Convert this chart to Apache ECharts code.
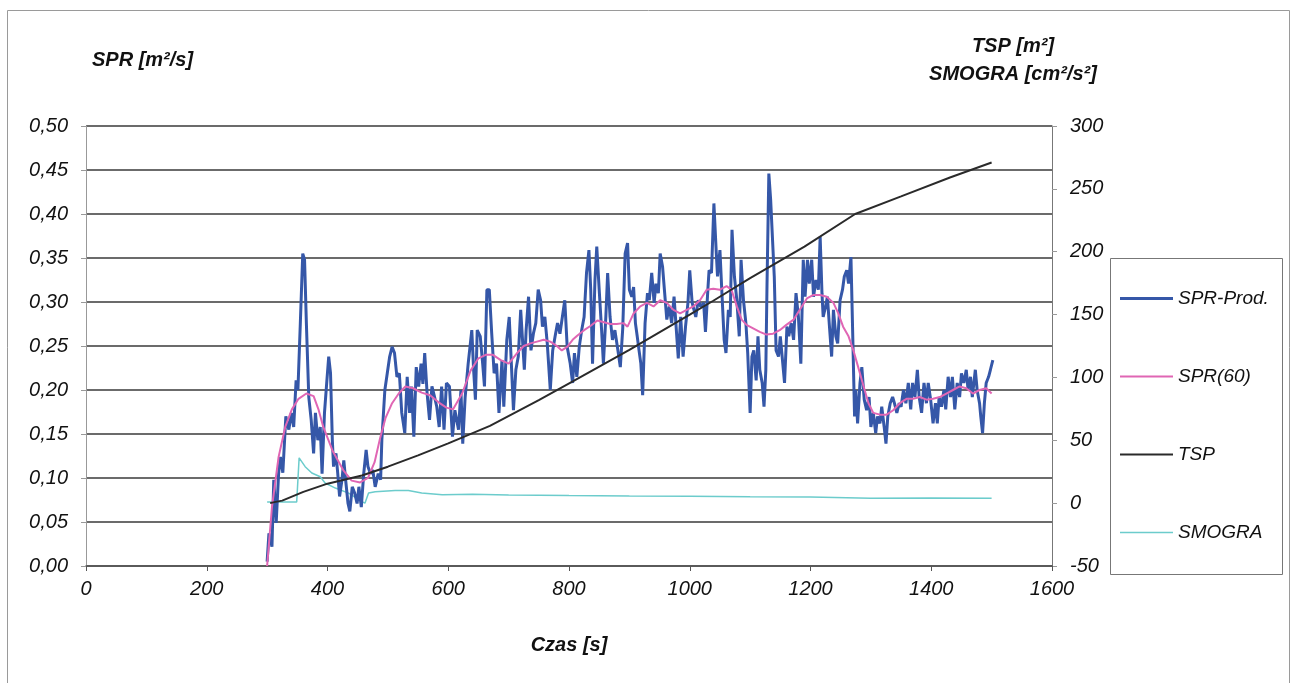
<!DOCTYPE html>
<html>
<head>
<meta charset="utf-8">
<script src="https://cdn.jsdelivr.net/npm/echarts@6/dist/echarts.min.js"></script>
<style>
html,body{margin:0;padding:0;background:#fff;}
#chart{width:1293px;height:683px;}
</style>
</head>
<body>
<div id="chart"></div>
<script>
// ---- Data ----
const xTicks = [0, 200, 400, 600, 800, 1000, 1200, 1400, 1600];
const leftTicks = [0, 0.05, 0.10, 0.15, 0.20, 0.25, 0.30, 0.35, 0.40, 0.45, 0.50];
const rightTicks = [-50, 0, 50, 100, 150, 200, 250, 300];

const sprProdT = [300,303,308,311,315,319,322,326,331,336,340,344,348,351,355,359,362,365,369,373,377,380,384,388,391,395,399,402,405,408,410,414,417,420,424,427,430,434,437,441,445,449,452,456,460,464,467,471,475,479,484,488,490,495,499,503,507,511,515,519,523,528,532,536,539,543,547,551,555,558,561,565,569,573,577,581,585,589,593,597,602,607,611,617,621,624,628,633,639,642,645,648,653,657,660,664,668,672,676,680,684,689,692,697,701,704,708,712,716,720,723,726,729,733,737,741,745,749,753,756,760,764,769,773,777,781,785,789,793,797,802,806,809,813,817,821,825,829,833,836,839,843,846,850,854,857,861,864,868,872,876,881,885,889,893,897,900,904,907,910,913,916,919,922,926,930,933,937,941,944,948,951,955,958,962,966,970,974,977,981,985,989,993,997,1000,1004,1007,1010,1014,1018,1023,1026,1030,1032,1036,1040,1044,1046,1050,1053,1057,1060,1064,1067,1070,1074,1078,1082,1085,1089,1093,1096,1100,1103,1106,1110,1113,1116,1120,1123,1126,1128,1131,1134,1137,1140,1143,1147,1150,1153,1157,1161,1164,1168,1172,1176,1180,1184,1188,1191,1195,1198,1202,1205,1209,1213,1216,1219,1221,1225,1228,1231,1235,1238,1242,1245,1249,1253,1256,1260,1263,1267,1270,1273,1275,1278,1282,1285,1289,1293,1297,1300,1304,1308,1311,1315,1318,1322,1325,1328,1332,1336,1339,1343,1347,1350,1354,1358,1362,1366,1369,1373,1377,1380,1384,1388,1392,1395,1399,1403,1407,1410,1413,1417,1421,1424,1428,1432,1435,1439,1443,1447,1450,1454,1458,1461,1465,1468,1473,1476,1480,1482,1485,1488,1491,1495,1498,1502];
const sprProdV = [0.005,0.037,0.022,0.098,0.049,0.105,0.124,0.106,0.170,0.155,0.174,0.158,0.211,0.200,0.276,0.355,0.348,0.276,0.192,0.166,0.128,0.174,0.143,0.158,0.105,0.174,0.211,0.238,0.219,0.143,0.113,0.128,0.105,0.079,0.098,0.120,0.098,0.071,0.062,0.090,0.083,0.071,0.090,0.067,0.105,0.132,0.113,0.105,0.109,0.090,0.105,0.098,0.143,0.200,0.219,0.238,0.249,0.242,0.215,0.219,0.174,0.151,0.215,0.174,0.204,0.147,0.226,0.204,0.230,0.207,0.242,0.196,0.166,0.204,0.193,0.181,0.158,0.204,0.155,0.208,0.204,0.147,0.177,0.155,0.200,0.139,0.192,0.230,0.268,0.223,0.189,0.268,0.261,0.230,0.204,0.314,0.314,0.264,0.219,0.230,0.174,0.234,0.181,0.257,0.283,0.238,0.177,0.223,0.238,0.291,0.257,0.223,0.268,0.306,0.245,0.264,0.276,0.314,0.302,0.272,0.283,0.253,0.200,0.245,0.261,0.276,0.264,0.283,0.302,0.249,0.230,0.208,0.242,0.215,0.249,0.268,0.283,0.333,0.359,0.314,0.230,0.325,0.363,0.314,0.268,0.230,0.283,0.333,0.283,0.257,0.268,0.245,0.226,0.270,0.355,0.367,0.314,0.306,0.317,0.276,0.261,0.245,0.230,0.194,0.276,0.310,0.302,0.333,0.299,0.321,0.310,0.355,0.340,0.314,0.280,0.295,0.276,0.306,0.276,0.236,0.283,0.238,0.272,0.299,0.336,0.299,0.291,0.283,0.302,0.295,0.299,0.266,0.314,0.336,0.333,0.412,0.355,0.329,0.359,0.314,0.257,0.242,0.291,0.283,0.382,0.329,0.302,0.261,0.348,0.302,0.276,0.242,0.174,0.238,0.245,0.211,0.261,0.223,0.208,0.181,0.223,0.321,0.446,0.416,0.416,0.329,0.245,0.238,0.261,0.261,0.208,0.272,0.261,0.276,0.257,0.310,0.283,0.230,0.348,0.306,0.348,0.321,0.348,0.306,0.325,0.314,0.374,0.310,0.283,0.295,0.306,0.276,0.238,0.291,0.261,0.253,0.302,0.314,0.329,0.336,0.321,0.351,0.261,0.170,0.200,0.162,0.208,0.226,0.189,0.177,0.192,0.158,0.174,0.151,0.170,0.162,0.181,0.158,0.139,0.170,0.185,0.192,0.185,0.174,0.185,0.181,0.200,0.185,0.208,0.178,0.208,0.192,0.223,0.192,0.174,0.208,0.185,0.208,0.189,0.162,0.185,0.162,0.192,0.181,0.200,0.178,0.215,0.192,0.215,0.178,0.208,0.192,0.219,0.208,0.223,0.200,0.215,0.192,0.223,0.200,0.185,0.170,0.151,0.185,0.208,0.215,0.223,0.234];

const spr60T = [300,308,319,330,341,352,365,377,385,393,409,426,440,454,467,478,487,496,507,518,529,542,556,570,584,597,608,623,637,650,662,674,687,700,714,725,736,747,758,769,780,788,797,806,814,825,836,847,858,868,879,890,897,907,918,929,940,951,962,973,984,995,1006,1017,1028,1039,1050,1061,1069,1078,1086,1094,1105,1116,1127,1138,1149,1160,1172,1183,1194,1205,1216,1227,1238,1246,1254,1263,1271,1279,1288,1296,1304,1315,1326,1337,1348,1359,1370,1381,1392,1403,1414,1425,1436,1447,1458,1469,1480,1491,1500];
const spr60V = [0.000,0.067,0.124,0.158,0.178,0.190,0.196,0.193,0.178,0.158,0.130,0.109,0.097,0.095,0.100,0.118,0.145,0.168,0.185,0.196,0.204,0.202,0.197,0.194,0.186,0.180,0.178,0.196,0.222,0.236,0.240,0.240,0.234,0.230,0.242,0.250,0.253,0.255,0.257,0.255,0.250,0.245,0.249,0.257,0.262,0.268,0.273,0.279,0.277,0.275,0.275,0.276,0.272,0.287,0.295,0.299,0.295,0.302,0.299,0.291,0.287,0.291,0.295,0.302,0.314,0.315,0.314,0.318,0.314,0.295,0.280,0.274,0.270,0.266,0.263,0.264,0.268,0.274,0.280,0.292,0.304,0.308,0.308,0.306,0.299,0.287,0.272,0.261,0.245,0.226,0.204,0.185,0.174,0.172,0.172,0.177,0.185,0.190,0.190,0.192,0.189,0.190,0.192,0.196,0.200,0.204,0.202,0.196,0.200,0.202,0.196];

const tspT = [305,314,325,360,400,457,500,550,600,669,750,807,900,1000,1039,1100,1190,1274,1350,1431,1500];
const tspV = [0,1,2,9,15.5,22,29,38,47.5,61.5,82,97,122,150,161,179,204,230,244,259,271];

const smograT = [300,349,353,363,374,388,396,413,435,457,462,468,479,512,534,556,590,640,700,800,900,1000,1100,1200,1300,1400,1500];
const smograV = [1,1,36,29,24,21,16,12,8,1.2,0,8,9,10,10,8,6.6,7,6.5,6,5.7,5.5,5,4.8,3.8,4,3.8];

const seriesNames = ['SPR-Prod.', 'SPR(60)', 'TSP', 'SMOGRA'];

// ---- Chart ----
const pair = (ts, vs) => ts.map((t, i) => [t, vs[i]]);
const FONT = 'Liberation Sans, Arial, sans-serif';
const chart = echarts.init(document.getElementById('chart'), null, {renderer: 'canvas'});

const labelStyle = {fontFamily: FONT, fontStyle: 'italic', fontSize: 20, color: '#111'};
const titleStyle = {fontFamily: FONT, fontStyle: 'italic', fontWeight: 'bold', fontSize: 20, color: '#111'};
const bar = h => 'path://M0,0M53,14M0,' + (7 - h / 2) + 'L53,' + (7 - h / 2) + 'L53,' + (7 + h / 2) + 'L0,' + (7 + h / 2) + 'Z';

chart.setOption({
  animation: false,
  backgroundColor: '#fff',
  grid: {left: 86, right: 241, top: 126, bottom: 117, containLabel: false},
  xAxis: {
    type: 'value', min: xTicks[0], max: xTicks[xTicks.length - 1], interval: 200,
    name: 'Czas [s]', nameLocation: 'middle', nameGap: 69,
    nameTextStyle: titleStyle,
    axisLine: {show: true, onZero: false, lineStyle: {color: '#555', width: 1.5}},
    axisTick: {show: true, length: 5, lineStyle: {color: '#555'}},
    axisLabel: Object.assign({margin: 13, formatter: v => String(v)}, labelStyle),
    splitLine: {show: false}
  },
  yAxis: [{
    type: 'value', min: leftTicks[0], max: leftTicks[leftTicks.length - 1], interval: 0.05,
    name: 'SPR [m²/s]', nameLocation: 'end', nameGap: 56,
    nameTextStyle: Object.assign({align: 'left', padding: [0, 0, 0, 6]}, titleStyle),
    axisLine: {show: true, lineStyle: {color: '#999', width: 1}},
    axisTick: {show: true, length: 5, lineStyle: {color: '#999'}},
    axisLabel: Object.assign({margin: 18, formatter: v => v.toFixed(2).replace('.', ',')}, labelStyle),
    splitLine: {show: true, lineStyle: {color: '#3a3a3a', width: 1.5}}
  }, {
    type: 'value', min: rightTicks[0], max: rightTicks[rightTicks.length - 1], interval: 50,
    position: 'right',
    name: 'TSP [m²]\nSMOGRA [cm²/s²]', nameLocation: 'end', nameGap: 38,
    nameTextStyle: Object.assign({align: 'center', lineHeight: 28, padding: [0, 78, 0, 0]}, titleStyle),
    axisLine: {show: true, lineStyle: {color: '#777', width: 1}},
    axisTick: {show: true, length: 5, lineStyle: {color: '#999'}},
    axisLabel: Object.assign({margin: 18}, labelStyle),
    splitLine: {show: false}
  }],
  legend: {
    orient: 'vertical', left: 1120, top: 289, padding: 0,
    itemWidth: 53, itemHeight: 14, itemGap: 59,
    textStyle: {fontFamily: FONT, fontStyle: 'italic', fontSize: 19, color: '#111'},
    data: [
      {name: seriesNames[0], icon: bar(3)},
      {name: seriesNames[1], icon: bar(2.2)},
      {name: seriesNames[2], icon: bar(2)},
      {name: seriesNames[3], icon: bar(1.6)}
    ]
  },
  graphic: [
    {type: 'rect', shape: {x: 7.5, y: 10.5, width: 1282, height: 690}, style: {fill: 'none', stroke: '#9a9a9a', lineWidth: 1}, silent: true, z: -1},
    {type: 'rect', shape: {x: 1110.5, y: 258.5, width: 172, height: 316}, style: {fill: 'none', stroke: '#777', lineWidth: 1}, silent: true, z: -1}
  ],
  series: [
    {name: seriesNames[0], type: 'line', yAxisIndex: 0, symbol: 'none', data: pair(sprProdT, sprProdV),
     lineStyle: {color: '#3557a8', width: 3}, itemStyle: {color: '#3557a8'}, z: 3},
    {name: seriesNames[1], type: 'line', yAxisIndex: 0, symbol: 'none', data: pair(spr60T, spr60V),
     lineStyle: {color: '#e066b4', width: 2}, itemStyle: {color: '#e066b4'}, z: 4},
    {name: seriesNames[2], type: 'line', yAxisIndex: 1, symbol: 'none', data: pair(tspT, tspV),
     lineStyle: {color: '#2a2a2a', width: 2}, itemStyle: {color: '#2a2a2a'}, z: 5},
    {name: seriesNames[3], type: 'line', yAxisIndex: 1, symbol: 'none', data: pair(smograT, smograV),
     lineStyle: {color: '#6ccccc', width: 1.5}, itemStyle: {color: '#6ccccc'}, z: 2}
  ]
});
</script>
</body>
</html>
